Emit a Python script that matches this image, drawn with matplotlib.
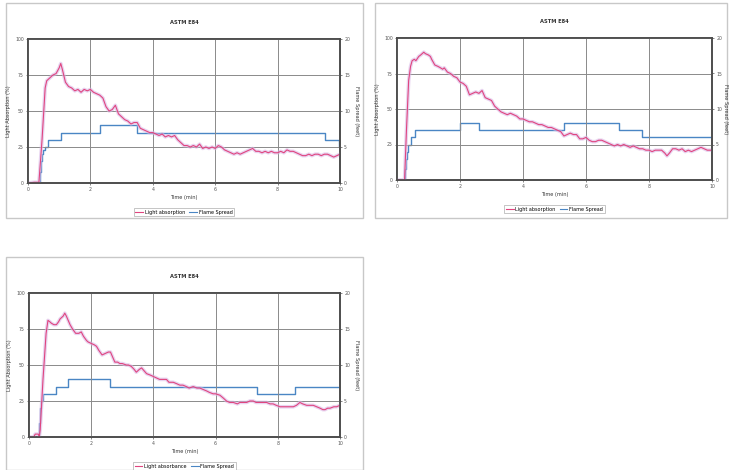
import numpy as np
import matplotlib
matplotlib.use("Agg")
import matplotlib.pyplot as plt
from matplotlib.patches import Rectangle
from matplotlib.lines import Line2D

W, H = 729, 470

#chart A (top left)
t_light_a = [0, 0.2, 0.35, 0.45, 0.55, 0.6, 0.7, 0.8, 0.9, 0.95, 1.0, 1.05, 1.1, 1.2, 1.3, 1.4, 1.5, 1.6, 1.7, 1.8,
             1.9, 2.0, 2.1, 2.2, 2.3, 2.4, 2.5, 2.6, 2.7, 2.8, 2.9, 3.0, 3.1, 3.2, 3.3, 3.4, 3.5, 3.6, 3.7, 3.8,
             3.9, 4.0, 4.1, 4.2, 4.3, 4.4, 4.5, 4.6, 4.7, 4.8, 4.9, 5.0, 5.1, 5.2, 5.3, 5.4, 5.5, 5.6, 5.7, 5.8,
             5.9, 6.0, 6.1, 6.2, 6.3, 6.4, 6.5, 6.6, 6.7, 6.8, 6.9, 7.0, 7.1, 7.2, 7.3, 7.4, 7.5, 7.6, 7.7, 7.8,
             7.9, 8.0, 8.1, 8.2, 8.3, 8.4, 8.5, 8.6, 8.7, 8.8, 8.9, 9.0, 9.1, 9.2, 9.3, 9.4, 9.5, 9.6, 9.7, 9.8,
             9.9, 10.0]
v_light_a = [0, 0.5, 0.5, 30, 66, 71, 73, 75, 76, 78, 80, 83, 79, 70, 67, 66, 64, 65, 63, 65,
             64, 65, 63, 62, 61, 59, 53, 50, 51, 54, 48, 46, 44, 43, 41, 42, 42, 38, 37, 36,
             35, 35, 34, 33, 34, 32, 33, 32, 33, 30, 28, 26, 26, 25, 26, 25, 27, 24, 25, 24,
             25, 24, 26, 25, 23, 22, 21, 20, 21, 20, 21, 22, 23, 24, 22, 22, 21, 22, 21, 22,
             21, 21, 22, 21, 23, 22, 22, 21, 20, 19, 19, 20, 19, 20, 20, 19, 20, 20, 19, 18,
             19, 20]
t_flame_a = [0, 0.37, 0.41, 0.45, 0.49, 0.53, 0.64, 1.07, 2.3, 3.48, 9.52, 9.96, 10]
v_flame_a = [0, 1.5, 3, 4, 4.6, 5, 6, 7, 8, 7, 6, 5, 5]

#chart B (top right)
t_light_b = [0, 0.24, 0.3, 0.37, 0.43, 0.48, 0.55, 0.6, 0.69, 0.75, 0.8, 0.85, 0.9, 1.0, 1.06, 1.1, 1.2, 1.3, 1.38,
             1.45, 1.5, 1.6, 1.7, 1.8, 1.9, 2.0, 2.1, 2.2, 2.3, 2.4, 2.5, 2.6, 2.7, 2.8, 2.9, 3.0, 3.1, 3.2,
             3.3, 3.4, 3.5, 3.6, 3.7, 3.8, 3.9, 4.0, 4.1, 4.2, 4.3, 4.4, 4.5, 4.6, 4.7, 4.8, 4.9, 5.0, 5.1,
             5.2, 5.3, 5.4, 5.5, 5.6, 5.7, 5.8, 5.9, 6.0, 6.1, 6.2, 6.3, 6.4, 6.5, 6.6, 6.7, 6.8, 6.9, 7.0,
             7.1, 7.2, 7.3, 7.4, 7.5, 7.6, 7.7, 7.8, 7.9, 8.0, 8.1, 8.2, 8.3, 8.4, 8.5, 8.57, 8.65, 8.75,
             8.85, 8.95, 9.05, 9.15, 9.25, 9.35, 9.45, 9.55, 9.65, 9.75, 9.85, 10.0]
v_light_b = [0, 0, 35, 70, 80, 84, 85, 84, 87, 88, 89, 90, 89, 88, 87, 85, 81, 80, 79,
             78, 79, 76, 75, 73, 72, 69, 68, 66, 60, 61, 62, 61, 63, 58, 57, 56, 52, 50,
             48, 47, 46, 47, 46, 45, 43, 43, 42, 41, 41, 40, 39, 39, 38, 37, 37, 36, 35,
             34, 31, 32, 33, 32, 32, 29, 29, 30, 28, 27, 27, 28, 28, 27, 26, 25, 24, 25,
             24, 25, 24, 23, 24, 23, 22, 22, 21, 21, 20, 21, 21, 21, 19, 17, 19, 22,
             22, 21, 22, 20, 21, 20, 21, 22, 23, 22, 21, 21]
t_flame_b = [0, 0.24, 0.28, 0.32, 0.36, 0.45, 0.56, 2.0, 2.6, 5.29, 7.04, 7.78, 10]
v_flame_b = [0, 1.5, 3, 4, 5, 6, 7, 8, 7, 8, 7, 6, 6]

#chart C (bottom left)
t_light_c = [0, 0.15, 0.2, 0.3, 0.33, 0.36, 0.45, 0.55, 0.61, 0.67, 0.72, 0.8, 0.88, 0.95, 1.0, 1.05, 1.1, 1.15,
             1.2, 1.26, 1.32, 1.4, 1.5, 1.6, 1.68, 1.75, 1.85, 1.9, 2.0, 2.1, 2.17, 2.25, 2.35, 2.45, 2.55,
             2.62, 2.7, 2.76, 2.85, 2.92, 3.0, 3.13, 3.2, 3.29, 3.38, 3.45, 3.55, 3.62, 3.7, 3.78, 3.9, 4.0,
             4.1, 4.2, 4.3, 4.42, 4.5, 4.64, 4.75, 4.85, 4.95, 5.06, 5.15, 5.28, 5.4, 5.49, 5.6, 5.71, 5.8,
             5.92, 6.0, 6.14, 6.25, 6.35, 6.45, 6.57, 6.7, 6.78, 6.9, 7.0, 7.1, 7.21, 7.3, 7.42, 7.55, 7.64,
             7.75, 7.85, 7.95, 8.07, 8.2, 8.28, 8.4, 8.5, 8.6, 8.71, 8.8, 8.93, 9.05, 9.14, 9.25, 9.36,
             9.45, 9.52, 9.6, 9.68, 9.8, 9.89, 10.0]
v_light_c = [0, 0, 2, 2, 0, 5, 40, 72, 81, 80, 79, 78, 78, 80, 82, 83, 84, 86,
             84, 81, 78, 75, 72, 72, 73, 70, 67, 66, 65, 64, 63, 60, 57, 58, 59,
             59, 55, 52, 52, 51, 51, 50, 50, 49, 47, 45, 47, 48, 46, 44, 43, 42,
             41, 40, 40, 40, 38, 38, 37, 36, 36, 35, 34, 35, 34, 34, 33, 32, 31,
             30, 30, 29, 27, 25, 24, 24, 23, 24, 24, 24, 25, 25, 24, 24, 24, 24,
             23, 23, 22, 21, 21, 21, 21, 21, 22, 24, 23, 22, 22, 22, 21, 20,
             19, 19, 20, 20, 21, 21, 22]
t_flame_c = [0, 0.32, 0.36, 0.4, 0.45, 0.88, 1.26, 2.6, 7.32, 8.55, 10]
v_flame_c = [0, 2, 4, 5, 6, 7, 8, 7, 6, 7, 7]

x_ticks = [0, 2, 4, 6, 8, 10]
left_ticks = [0, 25, 50, 75, 100]
right_ticks = [0, 5, 10, 15, 20]

PINK = '#e0457f'
HALO = '#d9b8e6'
BLUE = '#4a86c4'
GRID = '#8a8a8a'
FS = 3.3


def frac(px_box):
    #pixel box (x0, y0, x1, y1) from top left -> figure fraction [l, b, w, h]
    x0, y0, x1, y1 = px_box
    return [x0 / W, 1 - y1 / H, (x1 - x0) / W, (y1 - y0) / H]


def draw_panel(fig, ax_box, frame_box, title, t_l, v_l, t_f, v_f, light_label, rpad=3):
    l, b, w, h = frac(frame_box)
    fig.add_artist(Rectangle((l, b), w, h, transform=fig.transFigure,
                             facecolor='white', edgecolor='#c8c8c8', lw=1.0, zorder=0))
    ax = fig.add_axes(frac(ax_box))
    tw = ax.twinx()
    ax.set_zorder(tw.get_zorder() + 1)
    ax.patch.set_visible(False)

    tw.step(t_f, v_f, where='post', color=BLUE, lw=1.0)
    ax.plot(t_l, v_l, color=HALO, lw=2.6, alpha=0.6, solid_joinstyle='round')
    ax.plot(t_l, v_l, color=PINK, lw=0.8)

    ax.set_xlim(0, 10)
    ax.set_ylim(0, 100)
    tw.set_ylim(0, 20)
    ax.set_xticks(x_ticks)
    ax.set_yticks(left_ticks)
    tw.set_yticks(right_ticks)
    ax.grid(True, color=GRID, lw=0.7)
    for a in (ax, tw):
        for s in a.spines.values():
            s.set_color('#4d4d4d')
            s.set_linewidth(1.2)
        a.tick_params(labelsize=FS, length=1.5, width=0.5, pad=1.5, colors='#555555')
    ax.set_xlabel('Time (min)', fontsize=FS + 0.3, labelpad=2, color='#333333')
    ax.set_ylabel('Light Absorption (%)', fontsize=FS + 0.3, labelpad=3, color='#333333')
    tw.set_ylabel('Flame Spread (feet)', fontsize=FS + 0.3, labelpad=rpad, rotation=270,
                  va='bottom', color='#333333')
    ax.set_title(title, fontsize=FS + 0.4, fontweight='bold', pad=11, color='#333333')

    handles = [Line2D([], [], color=PINK, lw=0.8), Line2D([], [], color=BLUE, lw=0.8)]
    leg = ax.legend(handles, [light_label, 'Flame Spread'], loc='upper center',
                    bbox_to_anchor=(0.5, -0.16), ncol=2, fontsize=FS + 0.2, frameon=True,
                    fancybox=False, edgecolor='#999999', handlelength=1.6, columnspacing=0.8,
                    borderpad=0.3, handletextpad=0.4)
    leg.get_frame().set_linewidth(0.5)
    return ax


fig = plt.figure(figsize=(W / 100, H / 100), dpi=100)
fig.patch.set_facecolor('white')

draw_panel(fig, (28, 39, 340, 183), (6, 3, 363, 218), 'ASTM E84',
           t_light_a, v_light_a, t_flame_a, v_flame_a, 'Light absorption')
draw_panel(fig, (397, 38, 712, 180), (375, 3, 727, 218), 'ASTM E84',
           t_light_b, v_light_b, t_flame_b, v_flame_b, 'Light absorption', rpad=0.5)
draw_panel(fig, (29, 293, 340, 437), (6, 257, 363, 470), 'ASTM E84',
           t_light_c, v_light_c, t_flame_c, v_flame_c, 'Light absorbance')

fig.savefig('out.png', dpi=100)
